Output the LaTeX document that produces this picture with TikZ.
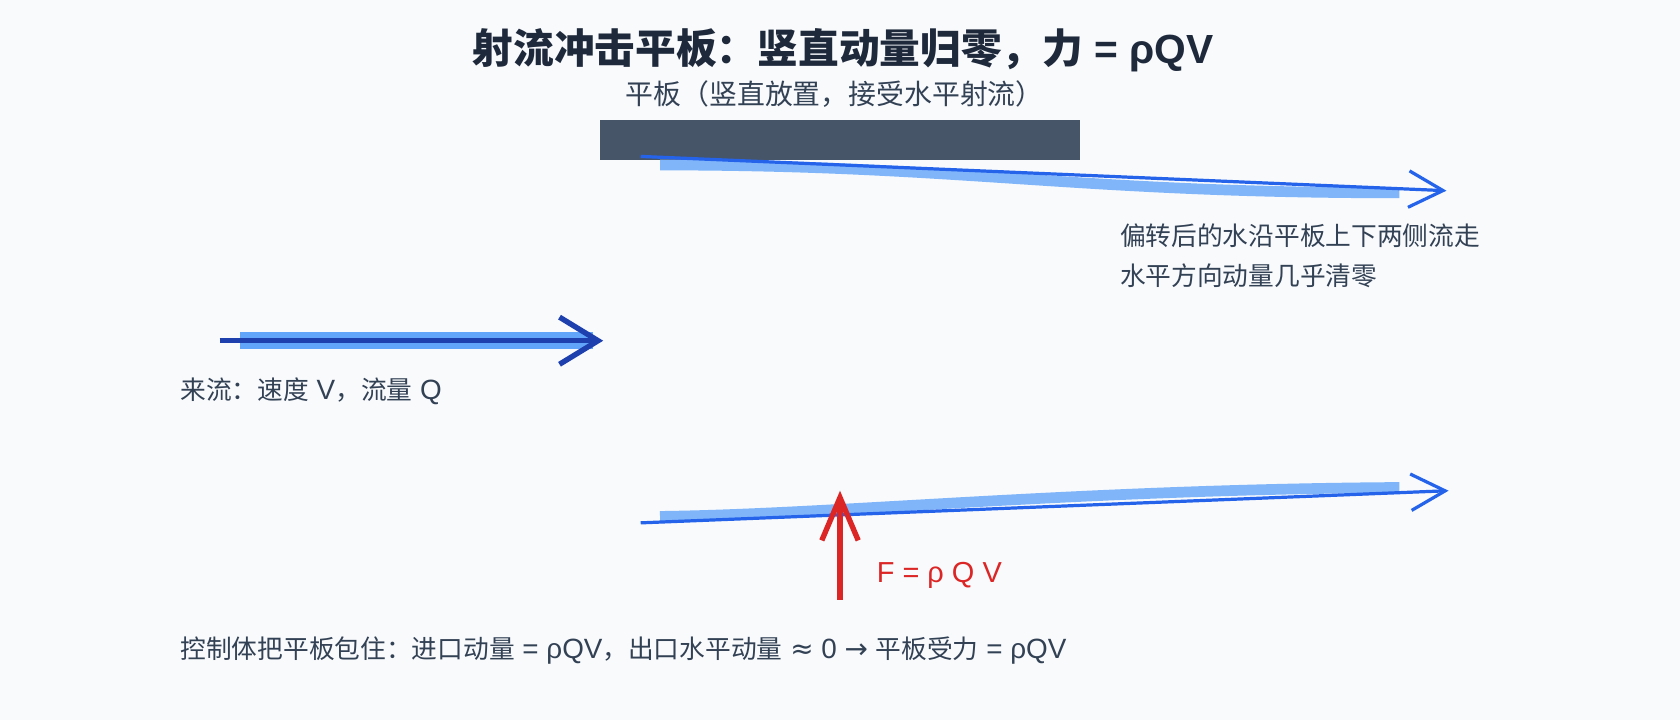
\documentclass[tikz,border=0pt]{standalone}
\usepackage{fontspec}
\setmainfont{Noto Sans CJK SC}
\newfontfamily\latin{Liberation Sans}[BoldFont={Liberation Sans Bold}]
\newfontfamily\symb{DejaVu Sans}
\newcommand{\lt}[1]{{\latin\fontsize{13}{15}\selectfont #1}}
\usetikzlibrary{arrows.meta}
\definecolor{bgcol}{HTML}{F8FAFC}
\definecolor{titlecol}{HTML}{1E293B}
\definecolor{textcol}{HTML}{334155}
\definecolor{platecol}{HTML}{475569}
\definecolor{jetblue}{HTML}{2563EB}
\definecolor{bandblue}{HTML}{80B5FA}
\definecolor{inblue}{HTML}{60A5FA}
\definecolor{indark}{HTML}{1E40AF}
\definecolor{forcered}{HTML}{DC2626}
\begin{document}
\begin{tikzpicture}[x=0.5pt,y=-0.5pt,
		txt/.style={text=textcol,font=\fontsize{12}{14}\selectfont,inner sep=0pt},
		band/.style={line width=5pt,draw=bandblue},
		jetline/.style={line width=1.5pt,draw=jetblue,-{Straight Barb[length=16pt,width=17pt]}}]
		\fill[bgcol] (0,0) rectangle (1568,672);
		\useasboundingbox (0,0) rectangle (1568,672);
		% titles and plate
		\node[text=titlecol,font=\fontsize{19}{23}\selectfont\bfseries,inner sep=0pt] (title) at (787,47) {射流冲击平板：竖直动量归零，力{\latin\bfseries\ = ρQV}};
		\node[txt,font=\fontsize{13}{15}\selectfont] (platelabel) at (779,88) {平板（竖直放置，接受水平射流）};
		\fill[platecol] (560,112) rectangle (1008,149);
		% incoming jet
		\coordinate (inA) at (205,318);
		\coordinate (inB) at (563,318);
		\draw[line width=8pt,inblue] (224,318) -- (553,318);
		\draw[line width=2.5pt,indark,-{Straight Barb[length=18pt,width=22pt]}] (inA) -- (inB);
		\node[txt,anchor=west] (inlabel) at (168,365) {来流：速度\lt{ V}，流量\lt{ Q}};
		% deflected jets
		\coordinate (upA) at (598,146);
		\coordinate (upB) at (1350,178);
		\coordinate (loA) at (598,488);
		\coordinate (loB) at (1352,458);
		\draw[band] (616,154) .. controls (900,154) and (1000,180) .. (1306,180);
		\draw[band] (616,482) .. controls (780,480) and (1000,457) .. (1306,455);
		\draw[jetline] (upA) -- (upB);
		\draw[jetline] (loA) -- (loB);
		\node[txt,anchor=west] (out1) at (1045,220) {偏转后的水沿平板上下两侧流走};
		\node[txt,anchor=west] (out2) at (1045,257) {水平方向动量几乎清零};
		% force on plate
		\coordinate (fbase) at (784,560);
		\coordinate (ftip) at (784,458);
		\draw[line width=2.5pt,forcered,-{Straight Barb[length=20pt,width=17pt]}] (fbase) -- (ftip);
		\node[txt,text=forcered,anchor=west,font=\fontsize{13.5}{15}\selectfont\latin] (flabel) at (818,537) {F = ρ Q V};
		\node[txt,anchor=west] (cvnote) at (168,607) {控制体把平板包住：进口动量\lt{ = ρQV}，出口水平动量\lt{ {\symb ≈} 0 {\symb →} }平板受力\lt{ = ρQV}};
\end{tikzpicture}
\end{document}
